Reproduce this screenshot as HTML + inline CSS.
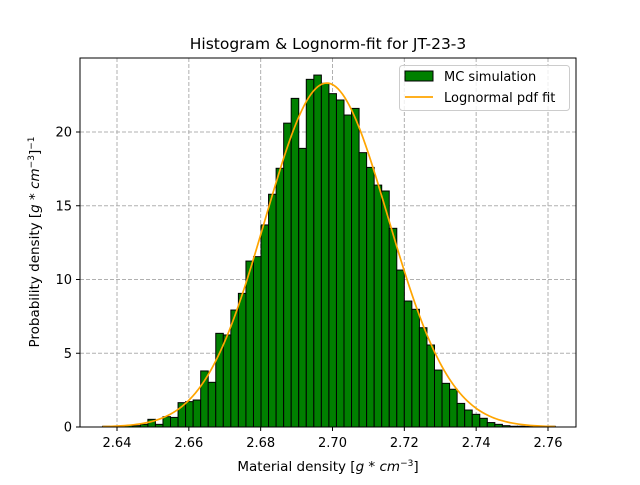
<!DOCTYPE html>
<html><head><meta charset="utf-8"><style>
body{margin:0;background:#fff}
svg text{font-family:"DejaVu Sans","Liberation Sans",sans-serif;fill:#000}
</style></head><body>
<svg id="chart" width="640" height="480" xmlns="http://www.w3.org/2000/svg">
<rect width="640" height="480" fill="#fff"/>
<g id="grid"></g>
<g id="bars"></g>
<path id="fit" fill="none" stroke="orange" stroke-width="1.7"/>
<rect x="80" y="58" width="496" height="369" fill="none" stroke="#000" stroke-width="1"/>
<g id="ticks"></g>
<text x="328" y="49" text-anchor="middle" font-size="15.5">Histogram &amp; Lognorm-fit for JT-23-3</text>
<text x="328" y="471" text-anchor="middle" font-size="13.5">Material density [<tspan font-style="italic">g</tspan> * <tspan font-style="italic">cm</tspan><tspan dy="-5" font-size="9">−3</tspan><tspan dy="5">]</tspan></text>
<text transform="translate(39,242) rotate(-90)" text-anchor="middle" font-size="13.5">Probability density [<tspan font-style="italic">g</tspan> * <tspan font-style="italic">cm</tspan><tspan dy="-5" font-size="9">−3</tspan><tspan dy="5">]</tspan><tspan dy="-5" font-size="9">−1</tspan></text>
<g>
<rect x="399.5" y="65.5" width="170" height="45" rx="3" fill="#fff" fill-opacity="0.8" stroke="#ccc"/>
<rect x="405" y="71" width="28" height="10" fill="green" stroke="#000"/>
<text x="444" y="81" font-size="13">MC simulation</text>
<line x1="405" y1="97" x2="433" y2="97" stroke="orange" stroke-width="1.7"/>
<text x="444" y="102" font-size="13">Lognormal pdf fit</text>
</g>
</svg>
<script>
const binStart = 2.636;
const binEnd = 2.762;
const densities = [0.05,0.03,0.05,0.1,0.09,0.18,0.52,0.18,0.70,0.65,1.65,1.72,1.83,3.80,3.03,6.35,6.24,7.93,9.06,11.25,11.55,13.7,15.78,17.54,20.6,22.28,18.89,23.57,23.86,23.3,22.6,22.17,21.15,21.6,18.6,17.6,16.4,16.0,13.47,10.64,8.54,7.98,6.73,5.56,3.86,2.96,2.56,1.6,1.15,0.86,0.59,0.3,0.18,0.09,0.05,0.05,0.03,0.03,0.02,0.05];
const xTicks = [2.64,2.66,2.68,2.70,2.72,2.74,2.76];
const yTicks = [0,5,10,15,20];
const fitMu = [Math.log(2.6985)];
const fitSigma = [0.00634];
const NS="http://www.w3.org/2000/svg";
const X = v => 117 + (v-2.64)/0.12*431;
const Y = v => 427 - v*14.75;
const mk=(t,a,p)=>{const e=document.createElementNS(NS,t);for(const k in a)e.setAttribute(k,a[k]);p.appendChild(e);return e;};
const grid=document.getElementById('grid'), ticks=document.getElementById('ticks'), bars=document.getElementById('bars');
xTicks.forEach(t=>{
  const g=mk('line',{x1:X(t),x2:X(t),y1:58,y2:427,stroke:'#b0b0b0','stroke-dasharray':'4,2'},grid);
  
  
  const tk=mk('line',{x1:X(t),x2:X(t),y1:427,y2:431,stroke:'#000'},ticks);
  
  
  const tx=mk('text',{x:X(t),y:447,'text-anchor':'middle','font-size':'13'},ticks);
  tx.textContent=t.toFixed(2);
  
  
});
yTicks.forEach(t=>{
  const g=mk('line',{x1:80,x2:576,y1:Y(t),y2:Y(t),stroke:'#b0b0b0','stroke-dasharray':'4,2'},grid);
  
  
  const tk=mk('line',{x1:76,x2:80,y1:Y(t),y2:Y(t),stroke:'#000'},ticks);
  
  
  const tx=mk('text',{x:72,y:Y(t)+4.5,'text-anchor':'end','font-size':'13'},ticks);
  tx.textContent=t;
  
  
});
const w=(binEnd-binStart)/densities.length;
densities.forEach((d,i)=>{
  const x0=X(binStart+i*w), x1=X(binStart+(i+1)*w);
  const r=mk('rect',{x:x0,y:Y(d),width:x1-x0,height:Y(0)-Y(d),fill:'green',stroke:'#000','stroke-width':'1'},bars);
  
  
});
let dpath='';
for(let i=0;i<=200;i++){
  const x=binStart+(binEnd-binStart)*i/200;
  const s=fitSigma[0], m=fitMu[0];
  const p=Math.exp(-Math.pow(Math.log(x)-m,2)/(2*s*s))/(x*s*Math.sqrt(2*Math.PI));
  dpath+=(i?'L':'M')+X(x).toFixed(2)+','+Y(p).toFixed(2);
}
document.getElementById('fit').setAttribute('d',dpath);
</script>
</body></html>
